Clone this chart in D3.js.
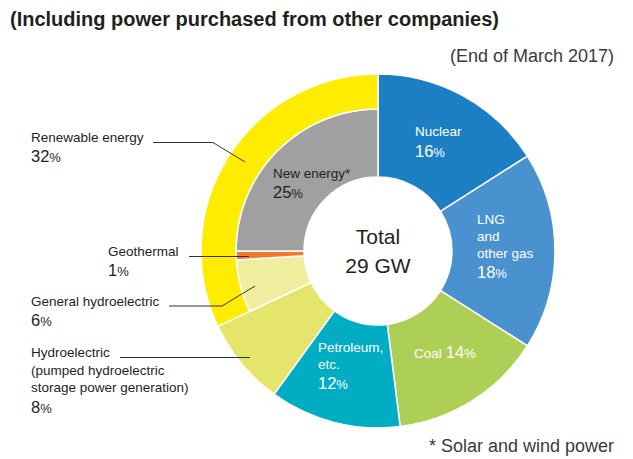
<!DOCTYPE html>
<html>
<head>
<meta charset="utf-8">
<script src="https://cdn.jsdelivr.net/npm/d3@7"></script>
<style>
  html, body { margin: 0; padding: 0; background: #fff; }
  svg { display: block; font-family: "Liberation Sans", Arial, Helvetica, sans-serif; }
</style>
</head>
<body>
<svg id="chart" width="633" height="459"></svg>
<script>
// ---------------- data ----------------
const categories = ["Nuclear", "LNG and other gas", "Coal", "Petroleum, etc.",
  "Hydroelectric (pumped hydroelectric storage power generation)",
  "General hydroelectric", "Geothermal", "New energy*"];
const shares = [16, 18, 14, 12, 8, 6, 1, 25];
const renewable = [false, false, false, false, false, true, true, true];
const renewableLabel = "Renewable energy";
const renewableShare = 32;
const totalLabel = ["Total", "29 GW"];
const titleText = "(Including power purchased from other companies)";
const dateText = "(End of March 2017)";
const noteText = "* Solar and wind power";

// ---------------- styles / layout ----------------
const colors = ["#1c7fc3", "#4a91d0", "#aecf56", "#00adc2", "#e4e56a", "#eeee9e", "#ef7b2c", "#a0a0a0"];
const ringColor = "#ffec00";
const textDark = "#231f20";
const cx = 378, cy = 251;
const rInner = 74, rMid = 142, rOuter = 177;

const svg = d3.select("#chart");

// title
svg.append("text").attr("x", 10).attr("y", 26)
  .attr("font-size", 20).attr("font-weight", "bold").attr("fill", textDark)
  .text(titleText);
svg.append("text").attr("x", 614).attr("y", 62).attr("text-anchor", "end")
  .attr("font-size", 18).attr("fill", "#3a3a3a").text(dateText);
svg.append("text").attr("x", 614).attr("y", 452).attr("text-anchor", "end")
  .attr("font-size", 18).attr("fill", "#3a3a3a").text(noteText);

const g = svg.append("g").attr("transform", `translate(${cx},${cy})`);

const items = categories.map((c, i) => ({ name: c, value: shares[i], color: colors[i], ren: renewable[i] }));
const pie = d3.pie().sort(null).value(d => d.value).startAngle(0).endAngle(2 * Math.PI);
const arcs = pie(items);

const arcGen = d3.arc();

g.selectAll("path.slice").data(arcs).join("path")
  .attr("class", "slice")
  .attr("d", d => arcGen({ ...d, innerRadius: rInner, outerRadius: d.data.ren ? rMid : rOuter }))
  .attr("fill", d => d.data.color)
  .attr("stroke", "#fff").attr("stroke-width", 1.5).attr("stroke-linejoin", "round");

// renewable outer ring
const renArcs = arcs.filter(d => d.data.ren);
const ringArc = {
  startAngle: d3.min(renArcs, d => d.startAngle),
  endAngle: d3.max(renArcs, d => d.endAngle),
  innerRadius: rMid, outerRadius: rOuter
};
g.append("path").attr("d", arcGen(ringArc))
  .attr("fill", ringColor).attr("stroke", "#fff").attr("stroke-width", 1.5);

// center text
g.append("text").attr("x", 0).attr("y", -7).attr("text-anchor", "middle")
  .attr("font-size", 21).attr("fill", textDark).text(totalLabel[0]);
g.append("text").attr("x", 0).attr("y", 22).attr("text-anchor", "middle")
  .attr("font-size", 21).attr("fill", textDark).text(totalLabel[1]);

// label helper: lines of text then a percentage line
function label(x, y, lines, pct, fill, lineH, pctInline) {
  const t = svg.append("text").attr("x", x).attr("y", y).attr("fill", fill).attr("font-size", 13.5);
  lines.forEach((l, i) => {
    t.append("tspan").attr("x", x).attr("dy", i === 0 ? 0 : lineH).text(l);
  });
  let p;
  if (pctInline) {
    p = t.append("tspan").attr("dx", 4);
  } else {
    p = t.append("tspan").attr("x", x).attr("dy", lines.length ? lineH + 3 : 0);
  }
  p.attr("font-size", 16.5).text(pct);
  t.append("tspan").attr("font-size", 13).text("%");
}

// inside labels
label(415, 136, ["Nuclear"], shares[0], "#fff", 18);
label(477, 224, ["LNG", "and", "other gas"], shares[1], "#fff", 17);
label(414, 358, ["Coal"], shares[2], "#fff", 18, true);
label(318, 352, ["Petroleum,", "etc."], shares[3], "#fff", 17);
label(273, 178, ["New energy*"], shares[7], textDark, 17);

// left labels
label(31, 142, [renewableLabel], renewableShare, textDark, 17);
label(108, 256, ["Geothermal"], shares[6], textDark, 17);
label(31, 306, ["General hydroelectric"], shares[5], textDark, 17);
label(31, 357, ["Hydroelectric", "(pumped hydroelectric", "storage power generation)"], shares[4], textDark, 17.5);

// leader lines
const lines = [
  [[153, 142.5], [213, 142.5], [245, 162]],
  [[189, 256.5], [249, 256.5]],
  [[169, 306], [222, 306], [255, 286]],
  [[120, 357.5], [250, 357.5]]
];
svg.selectAll("path.leader").data(lines).join("path")
  .attr("class", "leader")
  .attr("d", d3.line())
  .attr("fill", "none").attr("stroke", "#333").attr("stroke-width", 1);
</script>
</body>
</html>
